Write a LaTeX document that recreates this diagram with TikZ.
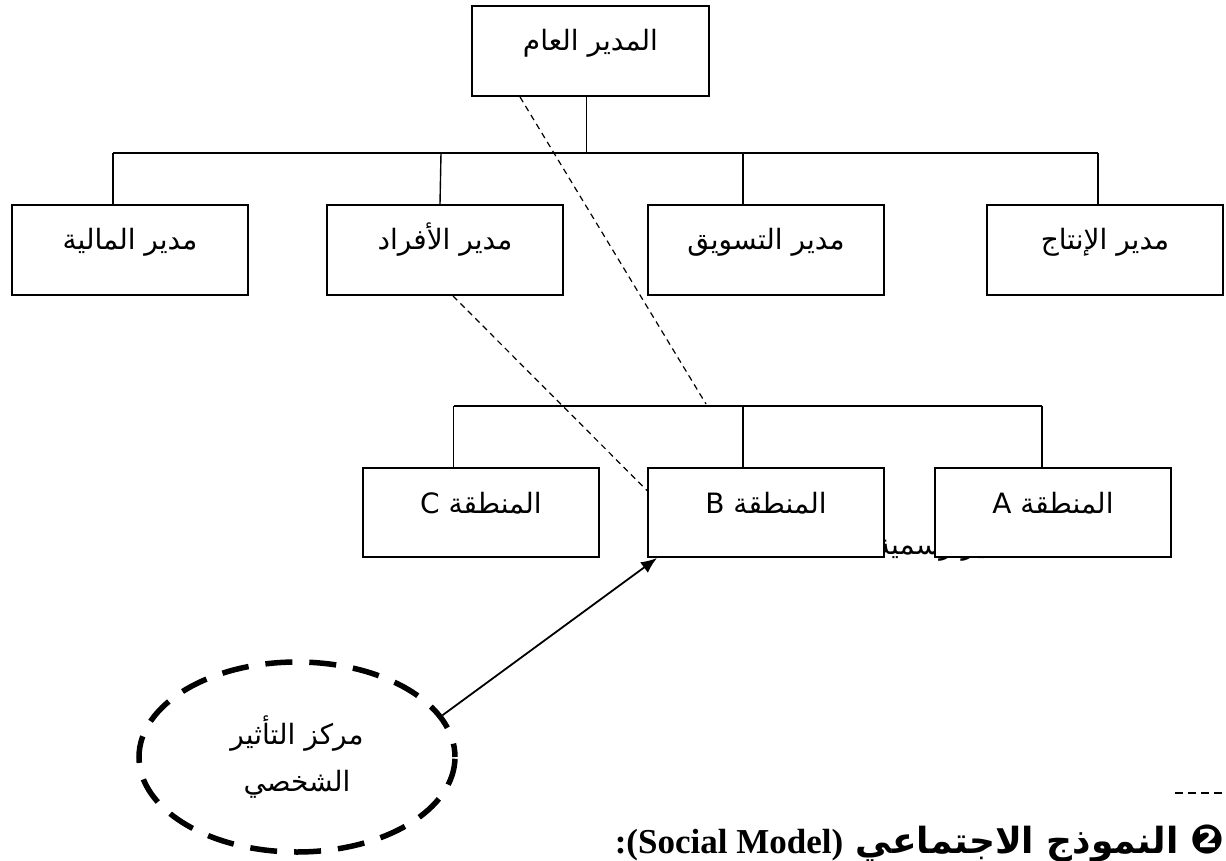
\documentclass[tikz,border=0pt]{standalone}
\usepackage{fontspec}
\setmainfont{DejaVu Sans}
\newfontfamily\arabicfont[Script=Arabic]{DejaVu Sans}
\newfontfamily\headserif{Liberation Serif}
\TeXXeTstate=1
\usetikzlibrary{arrows.meta,shapes.geometric,calc}

\tikzset{
  orgbox/.style={draw, line width=2pt, fill=white, minimum width=236pt,
                 minimum height=90pt, inner sep=0pt, anchor=north west},
  boxtext/.style={anchor=base, inner sep=0pt, font=\arabicfont\fontsize{28}{32}\selectfont},
  conn/.style={line width=1.4pt},
  informal/.style={line width=1.2pt, dash pattern=on 6pt off 4.5pt},
}

\begin{document}
\begin{tikzpicture}[x=1pt, y=-1pt]
  \useasboundingbox (0,0) rectangle (1226,861);

  % label partly hidden behind the region boxes
  \node[boxtext, anchor=base west] (unofficial) at (876,554) {\beginR غير رسمية\endR};

  % top level
  \node[orgbox, minimum width=237pt] (gm) at (471,5) {};
  \node[boxtext] (gmT) at ([yshift=-46pt]gm.north) {\beginR المدير العام\endR};

  % department managers
  \node[orgbox] (fin)  at (11,204)  {};
  \node[orgbox] (pers) at (326,204) {};
  \node[orgbox] (mkt)  at (647,204) {};
  \node[orgbox] (prod) at (986,204) {};
  \node[boxtext] (finT)  at ([yshift=-46pt]fin.north)  {\beginR مدير المالية\endR};
  \node[boxtext] (persT) at ([yshift=-46pt]pers.north) {\beginR مدير الأفراد\endR};
  \node[boxtext] (mktT)  at ([yshift=-46pt]mkt.north)  {\beginR مدير التسويق\endR};
  \node[boxtext] (prodT) at ([yshift=-46pt]prod.north) {\beginR مدير الإنتاج\endR};

  % regions
  \node[orgbox, minimum height=89pt] (rC) at (362,467) {};
  \node[orgbox, minimum height=89pt] (rB) at (647,467) {};
  \node[orgbox, minimum height=89pt] (rA) at (934,467) {};
  \node[boxtext] (rCT) at ([yshift=-46pt]rC.north) {\beginR المنطقة C\endR};
  \node[boxtext] (rBT) at ([yshift=-46pt]rB.north) {\beginR المنطقة B\endR};
  \node[boxtext] (rAT) at ([yshift=-46pt]rA.north) {\beginR المنطقة A\endR};

  % tree connectors, first level
  \coordinate (barA) at (113,153);
  \coordinate (barB) at (441,153);
  \coordinate (barC) at (743,153);
  \coordinate (barD) at (1098,153);
  \draw[conn] ([xshift=-4pt]gm.south) -- ([xshift=-4pt]gm.south |- barA);
  \draw[conn] (barA) -- (barD);
  \draw[conn] (barA) -- (barA |- fin.north);
  \draw[conn] (barB) -- ([xshift=-1pt]barB |- pers.north);
  \draw[conn] (barC) -- (barC |- mkt.north);
  \draw[conn] (barD) -- (barD |- prod.north);

  % tree connectors, regions
  \coordinate (rbarC) at (453.5,406);
  \coordinate (rbarB) at (743,406);
  \coordinate (rbarA) at (1042,406);
  \draw[conn] (rbarC) -- (rbarA);
  \draw[conn] (rbarC) -- (rbarC |- rC.north);
  \draw[conn] (rbarB) -- (rbarB |- rB.north);
  \draw[conn] (rbarA) -- (rbarA |- rA.north);

  % informal lines
  \coordinate (gmLink) at (706,404);
  \draw[informal] ([xshift=49pt]gm.south west) -- (gmLink);
  \draw[informal] ([xshift=127pt]pers.south west) -- ([yshift=22pt]rB.west);

  % centre of personal influence
  \node[draw, ellipse, line width=5.5pt, dash pattern=on 27pt off 17pt, dash phase=13.5pt,
        minimum width=316pt, minimum height=190pt, inner sep=0pt, align=center,
        font=\arabicfont\fontsize{28}{47}\selectfont] (infl) at (297,757)
        {\beginR مركز التأثير\endR\\\beginR الشخصي\endR};
  \draw[line width=1.8pt, -{Latex[length=16pt,width=13pt]}] (infl.16) -- ([xshift=10pt]rB.south west);

  % section heading
  \coordinate (ruleL) at (1175,793);
  \coordinate (ruleR) at (1226,793);
  \draw[line width=1.3pt, dash pattern=on 8pt off 5pt] (ruleL) -- (ruleR);
  \node[anchor=base east, inner sep=0pt] (heading) at (1225,853)
    {\arabicfont\bfseries\fontsize{36}{40}\selectfont\beginR{\fontsize{40}{40}\selectfont ❷} النموذج الاجتماعي \beginL{\headserif\bfseries\fontsize{35}{38}\selectfont (Social Model)}\endL{\headserif\bfseries\fontsize{35}{38}\selectfont :}\endR};
\end{tikzpicture}
\end{document}
